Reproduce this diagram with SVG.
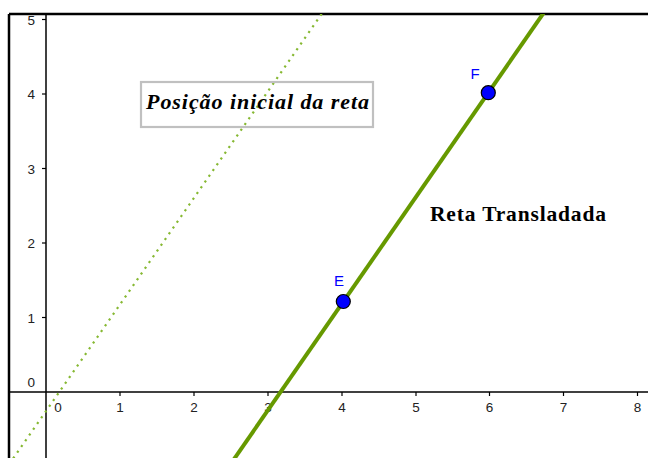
<svg xmlns="http://www.w3.org/2000/svg" width="648" height="458" viewBox="0 0 648 458">
<style>
.ax{stroke:#000;stroke-width:1.5;fill:none}
.tk{stroke:#000;stroke-width:1.2}
.num{font-family:"Liberation Sans","DejaVu Sans",sans-serif;font-size:13.5px;fill:#222}
.pt{fill:#0000ff;stroke:#000;stroke-width:1.2}
.plab{font-family:"Liberation Sans","DejaVu Sans",sans-serif;font-size:15px;fill:#0000ff}
</style>
<defs>
<clipPath id="view"><rect x="9" y="14" width="639" height="444"/></clipPath>
</defs>
<rect width="648" height="458" fill="#fff"/>
<g id="axes">
<line class="ax" x1="9" y1="392" x2="648" y2="392"/>
<line class="ax" x1="46" y1="14" x2="46" y2="458"/>
<g class="tk">
<line x1="120" y1="392" x2="120" y2="396"/>
<line x1="194" y1="392" x2="194" y2="396"/>
<line x1="268" y1="392" x2="268" y2="396"/>
<line x1="342" y1="392" x2="342" y2="396"/>
<line x1="416" y1="392" x2="416" y2="396"/>
<line x1="489.5" y1="392" x2="489.5" y2="396"/>
<line x1="563.5" y1="392" x2="563.5" y2="396"/>
<line x1="637.5" y1="392" x2="637.5" y2="396"/>
<line x1="42" y1="317.5" x2="46" y2="317.5"/>
<line x1="42" y1="243" x2="46" y2="243"/>
<line x1="42" y1="168.5" x2="46" y2="168.5"/>
<line x1="42" y1="94" x2="46" y2="94"/>
<line x1="42" y1="19.5" x2="46" y2="19.5"/>
</g>
<g class="num" text-anchor="middle">
<text x="58" y="412">0</text>
<text x="120" y="412">1</text>
<text x="194" y="412">2</text>
<text x="268" y="412">3</text>
<text x="342" y="412">4</text>
<text x="416" y="412">5</text>
<text x="489.5" y="412">6</text>
<text x="563.5" y="412">7</text>
<text x="637.5" y="412">8</text>
</g>
<g class="num" text-anchor="end">
<text x="35" y="387">0</text>
<text x="35" y="322.5">1</text>
<text x="35" y="248">2</text>
<text x="35" y="173.5">3</text>
<text x="35" y="99">4</text>
<text x="35" y="24.5">5</text>
</g>
</g>
<g id="frame" stroke="#000" stroke-width="2.5" fill="none">
<line x1="9" y1="14" x2="648" y2="14"/>
<line x1="9" y1="14" x2="9" y2="458"/>
</g>
<g id="connectors" clip-path="url(#view)">
<line id="reta-inicial" x1="5.2" y1="470" x2="331.3" y2="0" stroke="#86b832" stroke-width="2.2" stroke-dasharray="2.2 4.8"/>
<line id="reta-transladada" x1="226.5" y1="470" x2="552.6" y2="0" stroke="#669900" stroke-width="4"/>
</g>
<g id="label-inicial">
<rect x="141" y="82" width="232" height="45" fill="none" stroke="#c0c0c0" stroke-width="2.2"/>
<text x="146" y="108.5" font-family="Liberation Serif,serif" font-size="22" font-weight="bold" font-style="italic" fill="#000" textLength="223">Posição inicial da reta</text>
</g>
<g id="label-transladada">
<text x="430" y="221" font-family="Liberation Serif,serif" font-size="21.5" font-weight="bold" fill="#000" textLength="176">Reta Transladada</text>
</g>
<g id="point-E">
<circle class="pt" cx="343.3" cy="301.5" r="7"/>
<text class="plab" x="339" y="286" text-anchor="middle">E</text>
</g>
<g id="point-F">
<circle class="pt" cx="488.3" cy="92.7" r="7"/>
<text class="plab" x="475" y="79" text-anchor="middle">F</text>
</g>
</svg>
